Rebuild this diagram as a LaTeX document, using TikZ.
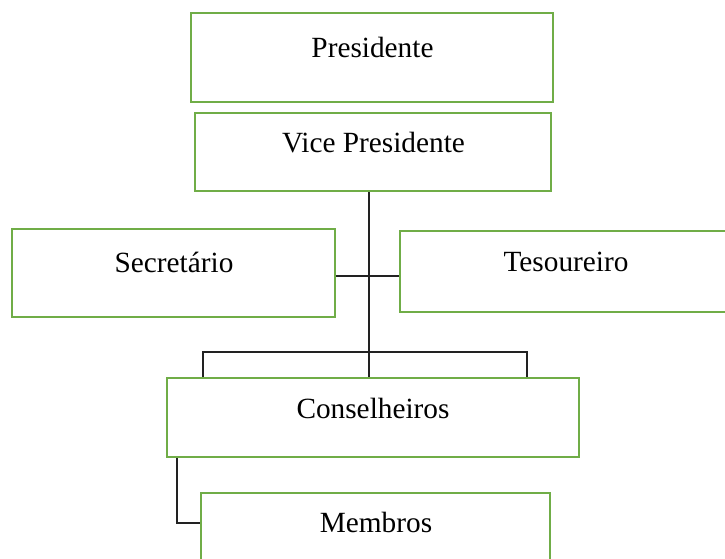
\documentclass[tikz,border=0pt]{standalone}
\usepackage{fontspec}
\setmainfont{Liberation Serif}
\definecolor{boxgreen}{HTML}{70AD47}
\definecolor{linegray}{HTML}{222222}
\begin{document}
\begin{tikzpicture}[x=1pt,y=-1pt,
  orgbox/.style={draw=boxgreen, line width=2.7pt, rectangle, inner sep=0pt},
  orgtext/.style={anchor=base, inner sep=0pt, font=\fontsize{29.3}{35}\selectfont},
  link/.style={draw=linegray, line width=1.1pt}]
\useasboundingbox (0,0) rectangle (725,559);
% boxes
\node[orgbox, minimum width=362pt, minimum height=89pt] (pres) at (372,57.5) {};
\node[orgbox, minimum width=356pt, minimum height=78pt] (vice) at (373,152) {};
\node[orgbox, minimum width=323pt, minimum height=88pt] (sec) at (173.5,273) {};
\node[orgbox, minimum width=332pt, minimum height=81pt] (tes) at (566,271.5) {};
\node[orgbox, minimum width=412pt, minimum height=79pt] (cons) at (373,417.5) {};
\node[orgbox, minimum width=349pt, minimum height=80pt] (mem) at (375.5,533) {};
% texts
\node[orgtext] (presT) at (372.5,58) {Presidente};
\node[orgtext] (viceT) at (373.5,153) {Vice Presidente};
\node[orgtext] (secT) at (174,272) {Secretário};
\node[orgtext] (tesT) at (566,271) {Tesoureiro};
\node[orgtext] (consT) at (373,418) {Conselheiros};
\node[orgtext] (memT) at (376,532) {Membros};
% helper coordinates
\coordinate (spine) at (369,276);
\coordinate (bl) at (203,352);
\coordinate (br) at (527,352);
\coordinate (ml) at (177,523);
% connectors
\draw[link] (vice.south -| spine) -- (cons.north -| spine);
\draw[link] (sec.east |- spine) -- (tes.west |- spine);
\draw[link] (cons.north -| bl) -- (bl) -- (br) -- (cons.north -| br);
\draw[link] (cons.south -| ml) -- (ml) -- (mem.west |- ml);
\end{tikzpicture}
\end{document}
